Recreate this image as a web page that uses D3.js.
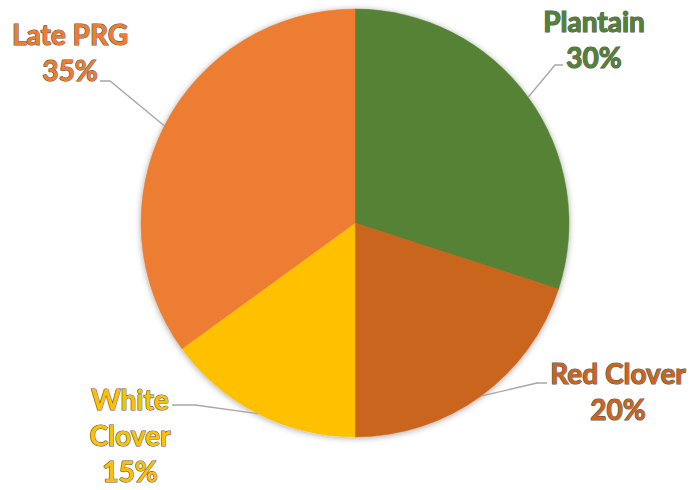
<!DOCTYPE html>
<html>
<head>
<meta charset="utf-8">
<script src="https://cdn.jsdelivr.net/npm/d3@7"></script>
<style>
  html, body { margin: 0; padding: 0; background: #fff; }
  svg { display: block; }
  .lbl { font-family: Lato, "Open Sans", sans-serif; font-weight: 700; font-size: 28px;
         stroke: rgba(45,45,45,0.8); stroke-width: 1.2px; paint-order: stroke fill; }
</style>
</head>
<body>
<svg id="chart" width="693" height="490"></svg>
<script>
// pie data, clockwise from 12 o'clock
var categories = ["Plantain", "Red Clover", "White Clover", "Late PRG"];
var shares = [30, 20, 15, 35];
var colours = ["#548235", "#C9651F", "#FFC000", "#ED7D31"];
// label text lines
var labelLines = [["Plantain"], ["Red Clover"], ["White", "Clover"], ["Late PRG"]];

// layout of the outside labels: centre x, first baseline, elbow of the leader line, end of leader line
var labelLayout = {
  "Plantain":     { x: 594, y: 32,  elbow: [555, 65],  end: [563, 65] },
  "Red Clover":   { x: 618, y: 384, elbow: [537, 383], end: [547, 383] },
  "White Clover": { x: 130, y: 410, elbow: [195, 405], end: [172, 405] },
  "Late PRG":     { x: 70,  y: 45,  elbow: [110, 81],  end: [100, 81] }
};

var width = 693, height = 490;
var cx = 355, cy = 223, radius = 214;
var lineGap = 36;

var svg = d3.select("#chart");

var defs = svg.append("defs");
var sh = defs.append("filter").attr("id", "pieShadow")
  .attr("x", "-20%").attr("y", "-20%").attr("width", "140%").attr("height", "140%");
sh.append("feDropShadow")
  .attr("dx", 0).attr("dy", 1).attr("stdDeviation", 3)
  .attr("flood-color", "#000").attr("flood-opacity", 0.35);

var data = categories.map(function(c, i) { return { name: c, value: shares[i], colour: colours[i], lines: labelLines[i] }; });

var pie = d3.pie().sort(null).value(function(d) { return d.value; });
var arc = d3.arc().innerRadius(0).outerRadius(radius);
var arcs = pie(data);

var g = svg.append("g").attr("transform", "translate(" + cx + "," + cy + ")");

g.append("g").attr("filter", "url(#pieShadow)")
  .selectAll("path")
  .data(arcs)
  .enter().append("path")
  .attr("d", arc)
  .attr("fill", function(d) { return d.data.colour; })
  .attr("stroke", function(d) { return d.data.colour; })
  .attr("stroke-width", 0.5);

// leader lines: from the slice edge at its mid angle to the label
arcs.forEach(function(d) {
  var mid = (d.startAngle + d.endAngle) / 2;
  var px = cx + radius * Math.sin(mid), py = cy - radius * Math.cos(mid);
  var lay = labelLayout[d.data.name];
  svg.append("polyline")
    .attr("points", [[px, py], lay.elbow, lay.end].map(function(p) { return p.join(","); }).join(" "))
    .attr("fill", "none")
    .attr("stroke", "#A6A6A6")
    .attr("stroke-width", 1.3);
});

// labels
arcs.forEach(function(d) {
  var lay = labelLayout[d.data.name];
  var pct = Math.round((d.endAngle - d.startAngle) / (2 * Math.PI) * 100) + "%";
  var lines = d.data.lines.concat([pct]);
  var t = svg.append("text")
    .attr("class", "lbl")
    .attr("text-anchor", "middle")
    .attr("fill", d.data.colour);
  lines.forEach(function(s, i) {
    t.append("tspan").attr("x", lay.x).attr("y", lay.y + i * lineGap).text(s);
  });
});
</script>
</body>
</html>
